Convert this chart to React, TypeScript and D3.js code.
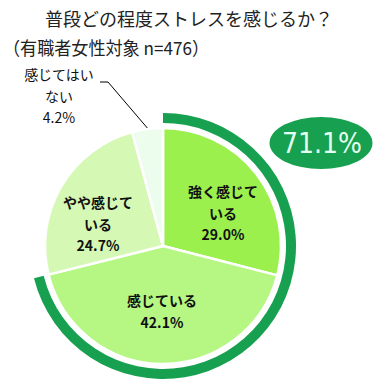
import React from "react";
import * as d3 from "d3";

const title = "普段どの程度ストレスを感じるか？";
const subtitle = "（有職者女性対象 n=476）";
const categories = ["強く感じている", "感じている", "やや感じている", "感じてはいない"];
const labelLines = [["強く感じて", "いる"], ["感じている"], ["やや感じて", "いる"], ["感じてはい", "ない"]];
const values = [29.0, 42.1, 24.7, 4.2];
const valueLabels = ["29.0%", "42.1%", "24.7%", "4.2%"];
const totalLabel = "71.1%";
const totalValue = 71.1;

const colors = ["#9cf04e", "#b6f783", "#d5f9b5", "#ecfced"];
const ringColor = "#17a04f";

const W = 378, H = 383;
const cx = 163, cy = 246, R = 118;
const FONT = "'Noto Sans CJK JP', 'Noto Sans', sans-serif";

// label layout: offsets relative to pie center (px)
const labelOffsets: [number, number][] = [[60, -32], [-1, 66], [-65, -21], [-104, -149]];

export default function App() {
  const pie = d3.pie<number>().sort(null).value((d) => d).startAngle(0).endAngle(2 * Math.PI);
  const arcs = pie(values);
  const arc = d3.arc<d3.PieArcDatum<number>>().innerRadius(0).outerRadius(R);
  const ringArc = d3.arc()({
    innerRadius: 123,
    outerRadius: 133,
    startAngle: 0,
    endAngle: (totalValue / 100) * 2 * Math.PI,
  } as any) as string;

  // leader line for small slice
  const a4 = arcs[3];
  const mid4 = (a4.startAngle + a4.endAngle) / 2;
  const leadEnd: [number, number] = [cx + (R + 1) * Math.sin(mid4), cy - (R + 1) * Math.cos(mid4)];
  const lx = cx + labelOffsets[3][0];
  const ly = cy + labelOffsets[3][1];
  const leadStart: [number, number] = [lx + 41, ly - 15];
  const leadKnee: [number, number] = [lx + 49, ly - 15];
  const line = d3.line()([leadStart, leadKnee, leadEnd]) as string;

  return (
    <svg width={W} height={H} style={{ position: "absolute", left: 0, top: 0, background: "#fff" }}>
      <rect x={0} y={0} width={W} height={H} fill="#fff" />
      <text x={W / 2} y={26} textAnchor="middle" fontFamily={FONT} fontSize={18} fill="#222">{title}</text>
      <text x={3} y={55} fontFamily={FONT} fontSize={18} fill="#222" textLength={206} lengthAdjust="spacingAndGlyphs">{subtitle}</text>

      <g transform={`translate(${cx},${cy})`}>
        {arcs.map((a, i) => (
          <path key={categories[i]} d={arc(a) as string} fill={colors[i]} stroke="#fff" strokeWidth={2.5} strokeLinejoin="round" />
        ))}
        <path d={ringArc} fill={ringColor} />
      </g>

      <path d={line} fill="none" stroke="#000" strokeWidth={1} />

      {arcs.map((a, i) => {
        const lines = labelLines[i];
        const all = [...lines, valueLabels[i]];
        const n = all.length;
        const lh = 21.5;
        const x = cx + labelOffsets[i][0];
        const y0 = cy + labelOffsets[i][1] - ((n - 1) * lh) / 2;
        const bold = i !== 3;
        return (
          <text key={"l" + i} textAnchor="middle" fontFamily={FONT} fontSize={14} fontWeight={bold ? 700 : 400} fill="#111">
            {all.map((t, j) => (
              <tspan key={j} x={x} y={y0 + j * lh} dy="0.35em">{t}</tspan>
            ))}
          </text>
        );
      })}

      <ellipse cx={321} cy={143} rx={51.5} ry={26} fill={ringColor} />
      <text x={322} y={153} textAnchor="middle" fontFamily="'DejaVu Sans', sans-serif" fontSize={28} fill="#e4fff0" textLength={80} lengthAdjust="spacingAndGlyphs">{totalLabel}</text>
    </svg>
  );
}
